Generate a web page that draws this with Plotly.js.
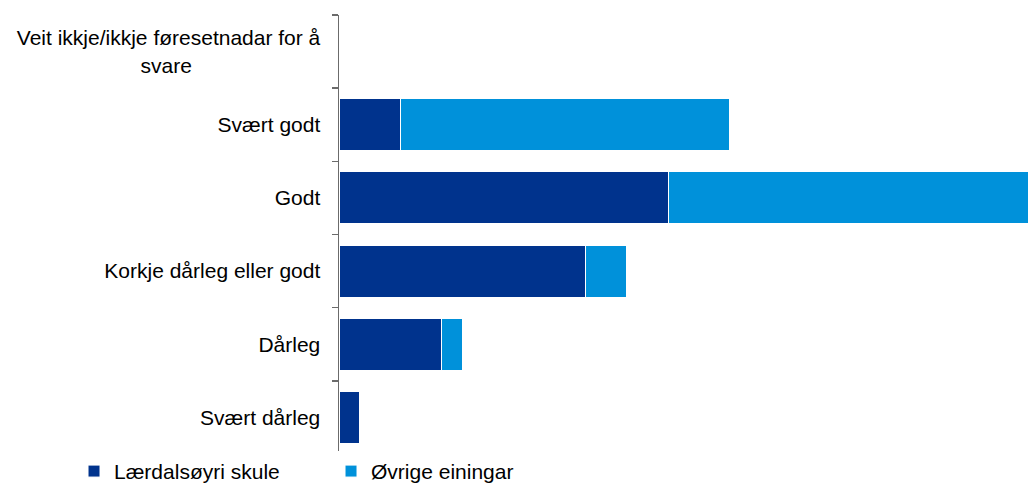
<!DOCTYPE html>
<html>
<head>
<meta charset="utf-8">
<script src="https://cdn.plot.ly/plotly-3.0.1.min.js"></script>
<style>html,body{margin:0;padding:0;background:#fff;}#chart{width:1028px;height:484px;}</style>
</head>
<body>
<div id="chart"></div>
<script>
var NB = '\u00a0';
var categories = [
  'Veit ikkje/ikkje føresetnadar for å<br>svare' + NB.repeat(22),
  'Svært godt',
  'Godt',
  'Korkje dårleg eller godt',
  'Dårleg',
  'Svært dårleg'
];
var seriesNames = ['Lærdalsøyri skule', 'Øvrige einingar'];
var skule = [0, 3, 16, 12, 5, 1];
var ovrige = [0, 16, 18, 2, 1, 0];
var colors = ['#00338D', '#0091DA'];

var traces = [skule, ovrige].map(function (vals, i) {
  return {
    type: 'bar',
    orientation: 'h',
    name: seriesNames[i],
    y: categories,
    x: vals,
    marker: { color: colors[i], line: { color: '#ffffff', width: 1 } },
    hoverinfo: 'x+name'
  };
});

var layout = {
  width: 1028,
  height: 484,
  barmode: 'stack',
  bargap: 0.29,
  margin: { l: 339, r: 0, t: 15, b: 30, autoexpand: false },
  paper_bgcolor: '#ffffff',
  plot_bgcolor: '#ffffff',
  font: { family: 'Liberation Sans, Arial, sans-serif', size: 21, color: '#000000' },
  showlegend: true,
  legend: {
    orientation: 'h',
    xref: 'container',
    yref: 'container',
    x: 0.072,
    xanchor: 'left',
    y: 0.026,
    yanchor: 'middle',
    entrywidth: 212,
    entrywidthmode: 'pixels',
    itemwidth: 30,
    font: { size: 21, color: '#000000' },
    traceorder: 'normal'
  },
  xaxis: {
    range: [0, 33.5],
    visible: false,
    showgrid: false,
    zeroline: false,
    fixedrange: true
  },
  yaxis: {
    type: 'category',
    autorange: 'reversed',
    showline: true,
    linecolor: '#6b6b6b',
    linewidth: 1.5,
    ticks: 'outside',
    tickson: 'boundaries',
    ticklen: 6,
    tickcolor: '#6b6b6b',
    tickwidth: 1.5,
    ticklabelstandoff: 13,
    showgrid: false,
    zeroline: false,
    tickfont: { size: 21, color: '#000000' },
    fixedrange: true
  }
};

Plotly.newPlot('chart', traces, layout, { displayModeBar: false, staticPlot: true });
</script>
</body>
</html>
